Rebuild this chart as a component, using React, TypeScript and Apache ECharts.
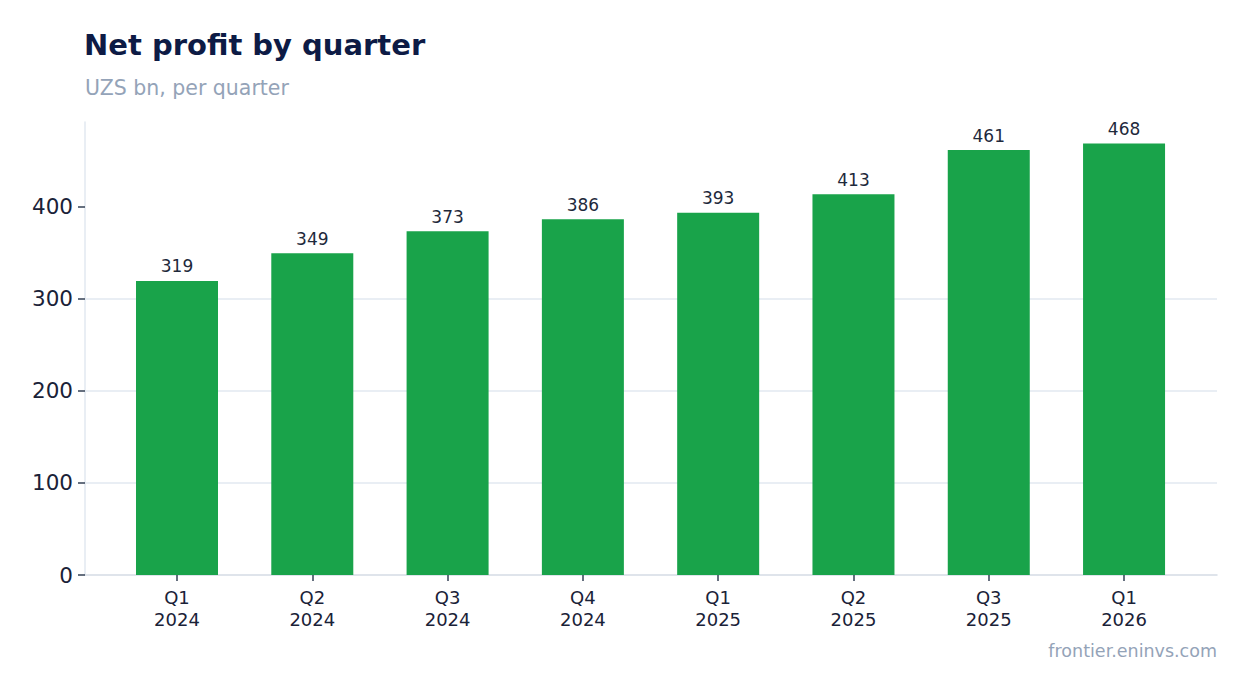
import React, { useEffect, useRef } from 'react';
import * as echarts from 'echarts';

const quarters = ['Q1\n2024', 'Q2\n2024', 'Q3\n2024', 'Q4\n2024', 'Q1\n2025', 'Q2\n2025', 'Q3\n2025', 'Q1\n2026'];
const netProfit = [319, 349, 373, 386, 393, 413, 461, 468];
const yTicks = [0, 100, 200, 300, 400];
const xPositions = quarters.map((_, i) => i);

const FONT = '"DejaVu Sans", sans-serif';

const App: React.FC = () => {
  const chartRef = useRef<HTMLDivElement>(null);

  useEffect(() => {
    if (!chartRef.current) return;
    document.body.style.margin = '0';
    const chart = echarts.init(chartRef.current, undefined, { renderer: 'svg' });

    const option: echarts.EChartsOption = {
      animation: false,
      backgroundColor: '#ffffff',
      textStyle: { fontFamily: FONT },
      grid: { left: 85, right: 30, top: 122, bottom: 118 },
      // value x axis so the bars sit with a margin inside the plot, as in the reference
      xAxis: {
        type: 'value',
        min: -0.68,
        max: 7.687,
        axisLine: { show: true, onZero: false, lineStyle: { color: '#d5dbe5', width: 1.5 } },
        axisTick: { show: true, length: 6, customValues: xPositions, lineStyle: { color: '#334155', width: 1.5 } },
        axisLabel: {
          fontFamily: FONT,
          fontSize: 18,
          color: '#1a2238',
          lineHeight: 22,
          margin: 11,
          customValues: xPositions,
          formatter: (v: number) => quarters[Math.round(v)] ?? ''
        },
        splitLine: { show: false }
      },
      yAxis: {
        type: 'value',
        min: 0,
        max: 491.4,
        interval: 100,
        axisLine: { show: true, onZero: false, lineStyle: { color: '#e2e8f0', width: 1.5 } },
        axisTick: { show: true, length: 7, customValues: yTicks, lineStyle: { color: '#334155', width: 1.5 } },
        axisLabel: { fontFamily: FONT, fontSize: 21.5, color: '#1a2238', margin: 12, customValues: yTicks },
        splitLine: { show: true, showMaxLine: false, showMinLine: false, lineStyle: { color: '#e2e8f0', width: 1.5 } }
      },
      series: [
        {
          type: 'bar',
          data: netProfit.map((v, i) => [i, v]),
          barWidth: 82,
          itemStyle: { color: '#19a34a' },
          label: {
            show: true,
            position: 'top',
            distance: 6,
            fontFamily: FONT,
            fontSize: 17,
            color: '#1e293b',
            formatter: (p: any) => String(p.value[1])
          }
        }
      ],
      graphic: [
        {
          type: 'text',
          left: 84,
          top: 30,
          style: { text: 'Net profit by quarter', font: `bold 29px ${FONT}`, fill: '#0d1b45' }
        },
        {
          type: 'text',
          left: 85,
          top: 77,
          style: { text: 'UZS bn, per quarter', font: `20.5px ${FONT}`, fill: '#94a3b8' }
        },
        {
          type: 'text',
          right: 30,
          top: 642,
          style: { text: 'frontier.eninvs.com', font: `17.5px ${FONT}`, fill: '#94a3b8' }
        }
      ]
    };

    chart.setOption(option);
    return () => chart.dispose();
  }, []);

  return <div ref={chartRef} style={{ width: 1247, height: 693 }} />;
};

export default App;
